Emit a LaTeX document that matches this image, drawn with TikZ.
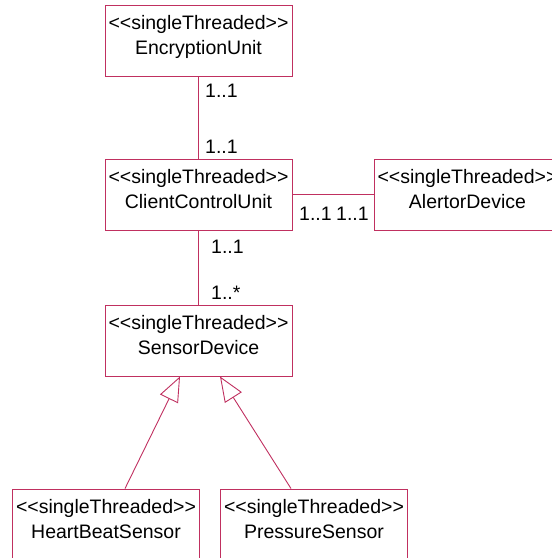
\documentclass[tikz,border=0pt]{standalone}
\usepackage{fontspec}
\setmainfont{Liberation Sans}
\usetikzlibrary{arrows.meta}
\definecolor{umlline}{RGB}{192,48,96}
\newcommand{\stereo}[1]{<{}<#1>{}>}
\tikzset{class box/.style={draw=umlline,line width=0.9pt,minimum width=187pt,minimum height=71pt,inner sep=0pt,align=center,text depth=12pt}}
\tikzset{mult/.style={anchor=west,inner sep=0pt}}
\tikzset{assoc/.style={draw=umlline,line width=0.9pt}}
\tikzset{gen/.style={assoc,-{Triangle[open,length=25pt,width=20pt,fill=white]}}}
\begin{document}
\begin{tikzpicture}[x=1pt,y=-1pt,font=\fontsize{19.5}{25}\selectfont]
                    \useasboundingbox (0,0) rectangle (552,558);

                    \node[class box] at (198.5,40.5) (eu){\stereo{singleThreaded}\\EncryptionUnit};
                    \node[class box] at (198.5,194.5) (ccu){\stereo{singleThreaded}\\ClientControlUnit};
                    \node[class box] at (467.5,194.5) (ad){\stereo{singleThreaded}\\AlertorDevice};
                    \node[class box] at (198.5,340.5) (sd){\stereo{singleThreaded}\\SensorDevice};
                    \node[class box] at (106,524.5) (hbs){\stereo{singleThreaded}\\HeartBeatSensor};
                    \node[class box] at (314,524.5) (ps){\stereo{singleThreaded}\\PressureSensor};

                    \draw[assoc] (eu) -- (ccu);
                    \draw[assoc] (ccu) -- (ad);
                    \draw[assoc] (ccu) -- (sd);

                    \draw[gen] ([xshift=19pt]hbs.north) -- ([xshift=-18.5pt]sd.south);
                    \draw[gen] ([xshift=-23pt]ps.north) -- ([xshift=21.5pt]sd.south);

                    \node[mult] at (205,91) (euend){1..1};
                    \node[mult] at (205,147) (ccutop){1..1};
                    \node[mult] at (299,214) (ccuright){1..1};
                    \node[mult] at (336,214) (adend){1..1};
                    \node[mult] at (211,247) (ccubottom){1..1};
                    \node[mult] at (211,293) (sdend){1..*};

                \end{tikzpicture}
\end{document}
